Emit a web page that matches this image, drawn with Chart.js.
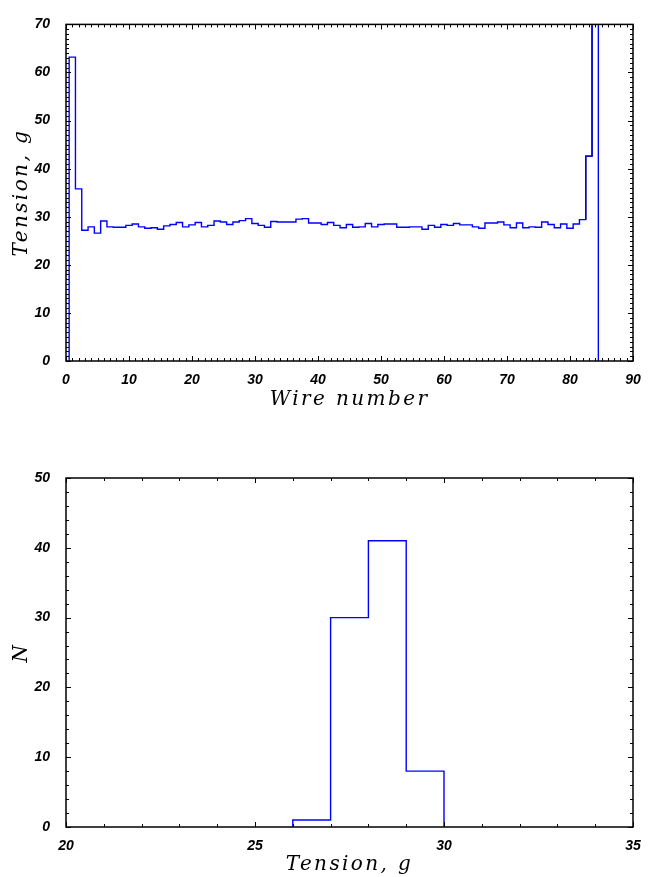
<!DOCTYPE html>
<html><head><meta charset="utf-8">
<script src="https://cdn.jsdelivr.net/npm/chart.js@4/dist/chart.umd.min.js"></script>
<style>
html,body{margin:0;padding:0;background:#fff;width:653px;height:877px;overflow:hidden}
canvas{position:absolute;left:0}
#c1{top:0}
#c2{top:440px}
</style></head><body>
<canvas id="c1" width="653" height="430"></canvas>
<canvas id="c2" width="653" height="437"></canvas>
<script>
// ---- data ----
const wireNumbers = Array.from({length: 84}, (_, i) => i + 1);
const tensions = [63.2, 35.8, 27.2, 27.9, 26.6, 29.1, 27.9, 27.8, 27.8, 28.2,
  28.5, 27.9, 27.6, 27.7, 27.4, 28.1, 28.4, 28.8, 27.9, 28.3,
  28.8, 27.9, 28.2, 29.1, 28.9, 28.4, 28.9, 29.2, 29.6, 28.6,
  28.2, 27.8, 29.0, 28.9, 28.9, 28.9, 29.5, 29.6, 28.7, 28.7,
  28.4, 28.8, 28.2, 27.7, 28.4, 27.8, 27.9, 28.6, 27.9, 28.4,
  28.5, 28.5, 27.8, 27.8, 27.9, 27.9, 27.4, 28.2, 27.8, 28.4,
  28.2, 28.6, 28.3, 28.3, 27.9, 27.6, 28.7, 28.7, 28.9, 28.3,
  27.7, 28.7, 27.7, 27.9, 27.8, 28.9, 28.4, 27.7, 28.5, 27.6,
  28.5, 29.4, 42.6, 95];
const blackWires = [83, 84];          // wires drawn in black
const histEdges = [26, 27, 28, 29, 30];
const histCounts = [1, 30, 41, 8];
const topXTicks = [0, 10, 20, 30, 40, 50, 60, 70, 80, 90];
const topYTicks = [0, 10, 20, 30, 40, 50, 60, 70];
const botXTicks = [20, 25, 30, 35];
const botYTicks = [0, 10, 20, 30, 40, 50];

// ---- build step outlines from the data ----
function wireSteps(wires, vals) {
  const pts = [{x: wires[0] - 0.5, y: 0}];
  wires.forEach((w, i) => { pts.push({x: w - 0.5, y: vals[i]}); pts.push({x: w + 0.5, y: vals[i]}); });
  pts.push({x: wires[wires.length - 1] + 0.5, y: 0});
  return pts;
}
const bluePts = wireSteps(wireNumbers, tensions);
const blackPts = (() => {
  const i0 = wireNumbers.indexOf(blackWires[0]);
  const pts = [{x: blackWires[0] - 0.5, y: tensions[i0 - 1]}];
  blackWires.forEach(w => { const v = tensions[wireNumbers.indexOf(w)]; pts.push({x: w - 0.5, y: v}); pts.push({x: w + 0.5, y: v}); });
  return pts;
})();
const histPts = (() => {
  const pts = [{x: histEdges[0], y: 0}];
  histCounts.forEach((c, i) => { pts.push({x: histEdges[i], y: c}); pts.push({x: histEdges[i + 1], y: c}); });
  pts.push({x: histEdges[histEdges.length - 1], y: 0});
  return pts;
})();

// ---- plugins ----
const frameTicks = {
  id: 'frameTicks',
  beforeDraw(chart) {
    for (const id of ['x', 'y']) {
      const s = chart.scales[id];
      if (s._spaced) continue;
      const orig = s.drawTitle.bind(s);
      s.drawTitle = function () { const c = this.ctx; c.save(); c.letterSpacing = '2.4px'; orig(); c.restore(); };
      s._spaced = true;
    }
  },
  afterDatasetsDraw(chart, args, o) {
    const {ctx, chartArea: a, scales: {x, y}} = chart;
    ctx.save();
    ctx.strokeStyle = '#000';
    ctx.lineWidth = 1;
    const isMajor = (v, m) => Math.abs(v / m - Math.round(v / m)) < 1e-6;
    ctx.beginPath();
    for (let v = x.min; v <= x.max + 1e-9; v += o.xMinor) {
      const p = Math.round(x.getPixelForValue(v)) + 0.5;
      const L = isMajor(v, o.xMajor) ? o.major : o.minor;
      ctx.moveTo(p, a.bottom); ctx.lineTo(p, a.bottom - L);
      ctx.moveTo(p, a.top); ctx.lineTo(p, a.top + L);
    }
    for (let v = y.min; v <= y.max + 1e-9; v += o.yMinor) {
      const p = Math.round(y.getPixelForValue(v)) + 0.5;
      const L = isMajor(v, o.yMajor) ? o.major : o.minor;
      ctx.moveTo(a.left, p); ctx.lineTo(a.left + L, p);
      ctx.moveTo(a.right, p); ctx.lineTo(a.right - L, p);
    }
    ctx.stroke();
    ctx.lineWidth = 1.5;
    ctx.strokeRect(a.left, a.top, a.right - a.left, a.bottom - a.top);
    ctx.restore();
  }
};

const tickFont = {family: "'Liberation Sans', Arial, sans-serif", size: 14, weight: 'bold', style: 'italic'};
const titleFont = {family: "'DejaVu Serif', serif", size: 20, style: 'italic', lineHeight: 1.2};

function axis(min, max, tickVals, title, isX, fitSize, titlePad, tickPad) {
  return {
    type: 'linear', min, max,
    grid: {display: false, drawTicks: false},
    border: {display: false},
    ticks: {color: '#000', font: tickFont, padding: tickPad, maxRotation: 0, autoSkip: false},
    afterBuildTicks: s => { s.ticks = tickVals.map(v => ({value: v})); },
    afterFit: s => { if (isX) s.height = fitSize; else s.width = fitSize; },
    title: {display: true, text: title, color: '#000', font: titleFont, padding: titlePad}
  };
}

const lineDs = (data, color) => ({data, borderColor: color, borderWidth: 1.4, pointRadius: 0, fill: false, tension: 0});

new Chart(document.getElementById('c1'), {
  type: 'line',
  data: {datasets: [lineDs(bluePts, '#0000ff'), lineDs(blackPts, '#000000')]},
  options: {
    responsive: false, animation: false, events: [],
    layout: {padding: {top: 13, right: 20, left: 0, bottom: 0}},
    plugins: {legend: {display: false}, tooltip: {enabled: false},
      frameTicks: {xMinor: 1, xMajor: 10, yMinor: 1, yMajor: 10, major: 5, minor: 3}},
    scales: {
      x: axis(0, 90, topXTicks, 'Wire number', true, 69, {top: 0, bottom: 18}, 11),
      y: axis(0, 70, topYTicks, 'Tension, g', false, 66, {top: 10, bottom: 0}, 16)
    }
  },
  plugins: [frameTicks]
});

new Chart(document.getElementById('c2'), {
  type: 'line',
  data: {datasets: [lineDs(histPts, '#0000ff')]},
  options: {
    responsive: false, animation: false, events: [],
    layout: {padding: {top: 38, right: 20, left: 0, bottom: 0}},
    plugins: {legend: {display: false}, tooltip: {enabled: false},
      frameTicks: {xMinor: 1, xMajor: 5, yMinor: 2, yMajor: 10, major: 5, minor: 3}},
    scales: {
      x: axis(20, 35, botXTicks, 'Tension, g', true, 50, {top: 0, bottom: 0}, 11),
      y: axis(0, 50, botYTicks, 'N', false, 66, {top: 10, bottom: 0}, 16)
    }
  },
  plugins: [frameTicks]
});
</script>
</body></html>
